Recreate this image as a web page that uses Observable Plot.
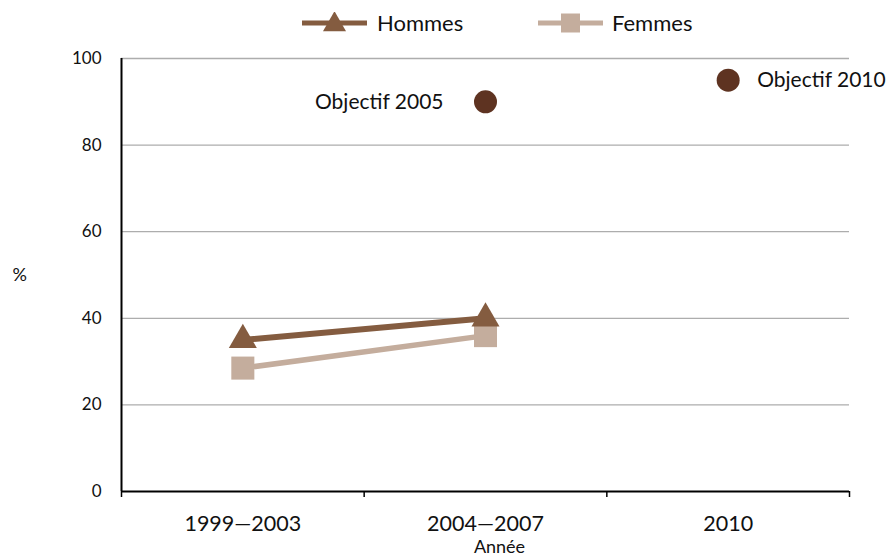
<!DOCTYPE html>
<html><head><meta charset="utf-8">
<script src="https://cdn.jsdelivr.net/npm/d3@7"></script>
<script src="https://cdn.jsdelivr.net/npm/@observablehq/plot@0.6"></script>
<style>
body{margin:0;background:#fff;font-family:Lato,sans-serif;color:#111;}
#legend{position:relative;height:40px;width:886px;}
.sw{position:absolute;top:12px;}
.lt{position:absolute;top:9px;font-size:22px;line-height:28px;}
#chart svg{display:block;}
</style></head><body>
<div id="legend"></div>
<div id="chart"></div>
<script>
// Data
const periods = ["1999—2003", "2004—2007", "2010"];
const seriesNames = ["Hommes", "Femmes"];
const hommes = [35, 40];          // 1999—2003, 2004—2007
const femmes = [28.5, 36];        // 1999—2003, 2004—2007
const objectifLabels = ["Objectif 2005", "Objectif 2010"];
const objectifPeriods = ["2004—2007", "2010"];
const objectifValues = [90, 95];
const yTicks = [0, 20, 40, 60, 80, 100];

const colors = {Hommes: "#845c40", Femmes: "#c4ad9d", Objectif: "#5e3321"};

const pos = p => periods.indexOf(p) + 0.5;
const hommesData = hommes.map((v, i) => ({x: pos(periods[i]), y: v}));
const femmesData = femmes.map((v, i) => ({x: pos(periods[i]), y: v}));
const objData = objectifValues.map((v, i) => ({x: pos(objectifPeriods[i]), y: v, label: objectifLabels[i]}));

// Legend
const legend = document.getElementById("legend");
const legendItems = [
  {name: "Hommes", symbol: d3.symbolTriangle, size: 230, left: 302, textLeft: 377},
  {name: "Femmes", symbol: d3.symbolSquare, size: 361, left: 538, textLeft: 612}
];
for (const it of legendItems) {
  const svg = d3.create("svg").attr("class", "sw").attr("width", 65).attr("height", 22)
    .style("left", it.left + "px");
  svg.append("line").attr("x1", 0).attr("x2", 65).attr("y1", 11).attr("y2", 11)
    .attr("stroke", colors[it.name]).attr("stroke-width", 5);
  svg.append("path").attr("d", d3.symbol(it.symbol, it.size)()).attr("transform", `translate(32.5,${it.name === "Hommes" ? 12.5 : 11})`)
    .attr("fill", colors[it.name]);
  legend.appendChild(svg.node());
  const t = document.createElement("div");
  t.className = "lt"; t.textContent = it.name; t.style.left = it.textLeft + "px";
  legend.appendChild(t);
}

const chart = Plot.plot({
  width: 886,
  height: 519,
  marginTop: 18,
  marginBottom: 68,
  marginLeft: 121,
  marginRight: 37,
  x: {type: "linear", domain: [0, 3]},
  y: {domain: [0, 100]},
  style: {fontFamily: "Lato, sans-serif", fontSize: "16px", color: "#111", background: "#fff"},
  marks: [
    Plot.ruleY(yTicks.filter(d => d > 0), {stroke: "#adadad", strokeWidth: 1.3}),
    Plot.axisY({ticks: yTicks, tickSize: 0, tickPadding: 20, label: null, fontSize: 17}),
    Plot.axisX({ticks: [0, 1, 2, 3], tickSize: 6, tickFormat: () => "", label: null, stroke: "#000", strokeWidth: 1.5}),
    Plot.axisX({ticks: periods.map(pos), tickSize: 0, tickPadding: 24, tickFormat: d => periods[Math.floor(d)], label: null, fontSize: 21.5}),
    Plot.ruleY([0], {stroke: "#000", strokeWidth: 2}),
    Plot.ruleX([0], {stroke: "#000", strokeWidth: 2}),
    Plot.text(["%"], {frameAnchor: "left", dx: -109, dy: 0, fontSize: 18, fill: "#111"}),
    Plot.text(["Année"], {frameAnchor: "bottom", dx: 14, dy: 61, fontSize: 18, fill: "#111"}),
    Plot.line(femmesData, {x: "x", y: "y", stroke: colors.Femmes, strokeWidth: 5.5}),
    Plot.dot(femmesData, {x: "x", y: "y", symbol: "square", r: 13, fill: colors.Femmes}),
    Plot.line(hommesData, {x: "x", y: "y", stroke: colors.Hommes, strokeWidth: 6}),
    Plot.dot(hommesData, {x: "x", y: "y", symbol: "triangle", r: 10.4, fill: colors.Hommes}),
    Plot.dot(objData, {x: "x", y: "y", r: 11.5, fill: colors.Objectif}),
    Plot.text(objData.slice(0, 1), {x: "x", y: "y", text: "label", textAnchor: "end", dx: -42, fontSize: 21, fill: "#111"}),
    Plot.text(objData.slice(1), {x: "x", y: "y", text: "label", textAnchor: "start", dx: 29, fontSize: 21, fill: "#111"})
  ]
});
document.getElementById("chart").appendChild(chart);
</script>
</body></html>
